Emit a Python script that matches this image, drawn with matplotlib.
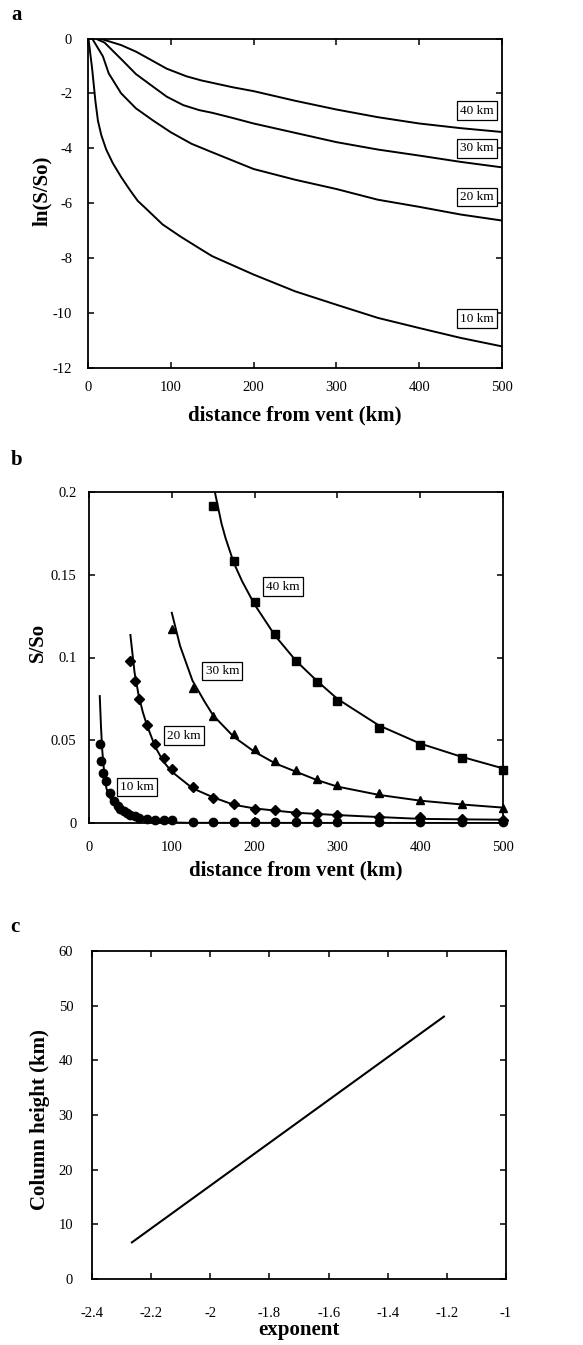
import numpy as np
import matplotlib
matplotlib.use("Agg")
import matplotlib.pyplot as plt
from matplotlib.ticker import FuncFormatter

plt.rcParams["font.family"] = ["Liberation Serif", "DejaVu Serif"]
plt.rcParams["axes.unicode_minus"] = False

# ---- panel a: ln(S/So) vs distance
a10_x = [0.5, 5, 9, 12, 16, 22, 30, 40, 50, 60, 72, 90, 112, 137, 150, 200, 250, 300, 350, 400, 450, 500]
a10_y = [0, -1.1, -2.3, -3.0, -3.52, -4.05, -4.55, -5.05, -5.5, -5.92, -6.26, -6.78, -7.23, -7.7, -7.94,
         -8.61, -9.22, -9.71, -10.19, -10.56, -10.92, -11.23]
a20_x = [5, 10, 18, 25, 40, 58, 79, 100, 125, 150, 200, 250, 300, 350, 400, 450, 500]
a20_y = [0, -0.25, -0.65, -1.27, -2.0, -2.55, -3.0, -3.42, -3.84, -4.15, -4.76, -5.15, -5.49, -5.88, -6.14, -6.42, -6.64]
a30_x = [9, 20, 29, 41, 58, 76, 95, 115, 134, 150, 175, 200, 250, 300, 350, 400, 450, 500]
a30_y = [0, -0.15, -0.42, -0.78, -1.3, -1.7, -2.12, -2.43, -2.61, -2.71, -2.9, -3.1, -3.44, -3.78, -4.05, -4.27, -4.5, -4.7]
a40_x = [14, 25, 40, 58, 76, 95, 119, 137, 175, 200, 250, 300, 350, 400, 450, 500]
a40_y = [0, -0.1, -0.24, -0.48, -0.78, -1.1, -1.38, -1.53, -1.78, -1.92, -2.27, -2.59, -2.87, -3.1, -3.27, -3.41]
a_labels = ["40 km", "30 km", "20 km", "10 km"]
a_label_y = [-2.63, -4.01, -5.78, -10.22]

# ---- panel b: S/So, model curves and points
b40_cx = [152, 160, 165, 175, 185, 200, 225, 250, 275, 300, 350, 400, 450, 500]
b40_cy = [0.2, 0.181, 0.172, 0.157, 0.146, 0.132, 0.113, 0.098, 0.086, 0.075, 0.059, 0.048, 0.040, 0.033]
b30_cx = [100, 110, 125, 140, 150, 175, 200, 225, 250, 275, 300, 350, 400, 450, 500]
b30_cy = [0.127, 0.107, 0.086, 0.073, 0.065, 0.052, 0.043, 0.036, 0.031, 0.026, 0.022, 0.017, 0.0135, 0.0112, 0.0093]
b20_cx = [50, 53, 55, 60, 65, 70, 80, 90, 100, 125, 150, 175, 200, 250, 300, 350, 400, 450, 500]
b20_cy = [0.1136, 0.1, 0.091, 0.077, 0.067, 0.059, 0.046, 0.037, 0.031, 0.021, 0.0155, 0.011, 0.0088, 0.0062,
          0.0048, 0.0036, 0.0025, 0.0022, 0.002]
b10_cx = [13, 14.5, 16, 17.5, 19, 21, 25, 28, 33, 39, 47, 57, 71, 93, 120, 500]
b10_cy = [0.0767, 0.058, 0.044, 0.035, 0.028, 0.021, 0.0155, 0.0129, 0.0102, 0.0079, 0.0055, 0.0034, 0.0014,
          0.0004, 0.0001, 0.0]

b40_x = [150, 175, 200, 225, 250, 275, 300, 350, 400, 450, 500]
b40_y = [0.1917, 0.1586, 0.1334, 0.1142, 0.0979, 0.085, 0.074, 0.0577, 0.0474, 0.039, 0.0323]
b30_x = [100, 125, 150, 175, 200, 225, 250, 275, 300, 350, 400, 450, 500]
b30_y = [0.117, 0.0817, 0.0646, 0.0537, 0.045, 0.0377, 0.0318, 0.0263, 0.0231, 0.018, 0.014, 0.0113, 0.0091]
b20_x = [50, 55, 60, 70, 80, 90, 100, 125, 150, 175, 200, 225, 250, 275, 300, 350, 400, 450, 500]
b20_y = [0.098, 0.086, 0.075, 0.0595, 0.048, 0.039, 0.0325, 0.0218, 0.0153, 0.0117, 0.0087, 0.0076, 0.0062,
         0.0052, 0.0046, 0.0038, 0.0034, 0.0026, 0.002]
b10_x = [13, 15, 17.5, 20, 25, 30, 35, 38, 42, 46, 50, 55, 60, 70, 80, 90, 100, 125, 150, 175, 200, 225, 250,
         275, 300, 350, 400, 450, 500]
b10_y = [0.048, 0.0377, 0.030, 0.0256, 0.0183, 0.0133, 0.0103, 0.0085, 0.0073, 0.0058, 0.0048, 0.004, 0.0032,
         0.0026, 0.002, 0.002, 0.0016, 0.0009, 0.0008, 0.0008, 0.0008, 0.0008, 0.0008, 0.0008, 0.0008, 0.0008,
         0.0008, 0.0008, 0.0008]
b_labels = ["40 km", "30 km", "20 km", "10 km"]
b_label_x = [234.5, 161, 115, 58.3]
b_label_y = [0.1429, 0.0918, 0.0527, 0.0218]

# ---- panel c: column height vs exponent
c_x = [-2.265, -1.21]
c_y = [6.7, 48.0]

W, H = 583, 1345
fig = plt.figure(figsize=(W / 100, H / 100), dpi=100)


def make_axes(l, r, t, b):
    return fig.add_axes([l / W, (H - b) / H, (r - l) / W, (b - t) / H])


def style(ax, xpad, ypad):
    for s in ax.spines.values():
        s.set_linewidth(1.3)
    ax.tick_params(direction="in", top=True, right=True, length=4.5, width=1.1, labelsize=10.5)
    ax.tick_params(axis="x", pad=xpad)
    ax.tick_params(axis="y", pad=ypad)


lbl = dict(fontsize=15, fontweight="bold")
box = dict(boxstyle="square,pad=0.25", fc="white", ec="black", lw=0.9)
fmt = FuncFormatter(lambda v, p: "%g" % v)

# panel a
ax = make_axes(88, 502, 38.5, 367.5)
for xs, ys in [(a10_x, a10_y), (a20_x, a20_y), (a30_x, a30_y), (a40_x, a40_y)]:
    ax.plot(xs, ys, color="black", lw=1.4)
for t, y in zip(a_labels, a_label_y):
    ax.text(470, y, t, ha="center", va="center", fontsize=9.5, bbox=box)
ax.set_xlim(0, 500)
ax.set_ylim(-12, 0)
ax.set_xticks(range(0, 501, 100))
ax.set_yticks(range(-12, 1, 2))
style(ax, 10, 11.5)
ax.set_xlabel("distance from vent (km)", va="center", **lbl)
ax.xaxis.set_label_coords(0.5, -0.147)
ax.set_ylabel("ln(S/So)", va="center", **lbl)
ax.yaxis.set_label_coords(-0.111, 0.536)
fig.text(17 / W, 1 - 15 / H, "a", ha="center", va="center", **lbl)

# panel b
ax = make_axes(89, 503, 492, 823)
for xs, ys in [(b40_cx, b40_cy), (b30_cx, b30_cy), (b20_cx, b20_cy), (b10_cx, b10_cy)]:
    ax.plot(xs, ys, color="black", lw=1.4)
ax.plot(b40_x, b40_y, "s", color="black", ms=6, clip_on=False)
ax.plot(b30_x, b30_y, "^", color="black", ms=6, clip_on=False)
ax.plot(b20_x, b20_y, "D", color="black", ms=4.6, clip_on=False)
ax.plot(b10_x, b10_y, "o", color="black", ms=6, clip_on=False)
for t, x, y in zip(b_labels, b_label_x, b_label_y):
    ax.text(x, y, t, ha="center", va="center", fontsize=9.5, bbox=box)
ax.set_xlim(0, 500)
ax.set_ylim(0, 0.2)
ax.set_xticks(range(0, 501, 100))
ax.set_yticks([0, 0.05, 0.1, 0.15, 0.2])
ax.yaxis.set_major_formatter(fmt)
style(ax, 13, 9)
ax.set_xlabel("distance from vent (km)", va="center", **lbl)
ax.xaxis.set_label_coords(0.5, -0.142)
ax.set_ylabel("S/So", va="center", **lbl)
ax.yaxis.set_label_coords(-0.123, 0.547)
fig.text(17 / W, 1 - 460 / H, "b", ha="center", va="center", **lbl)

# panel c
ax = make_axes(92, 506, 951, 1279)
ax.plot(c_x, c_y, color="black", lw=1.5)
ax.set_xlim(-2.4, -1)
ax.set_ylim(0, 60)
ax.set_xticks(np.arange(-2.4, -0.99, 0.2))
ax.set_yticks(range(0, 61, 10))
ax.xaxis.set_major_formatter(fmt)
style(ax, 20, 13.5)
ax.set_xlabel("exponent", va="center", **lbl)
ax.xaxis.set_label_coords(0.5, -0.155)
ax.set_ylabel("Column height (km)", va="center", **lbl)
ax.yaxis.set_label_coords(-0.126, 0.485)
fig.text(15 / W, 1 - 927 / H, "c", ha="center", va="center", **lbl)

fig.savefig("out.png", dpi=100)
